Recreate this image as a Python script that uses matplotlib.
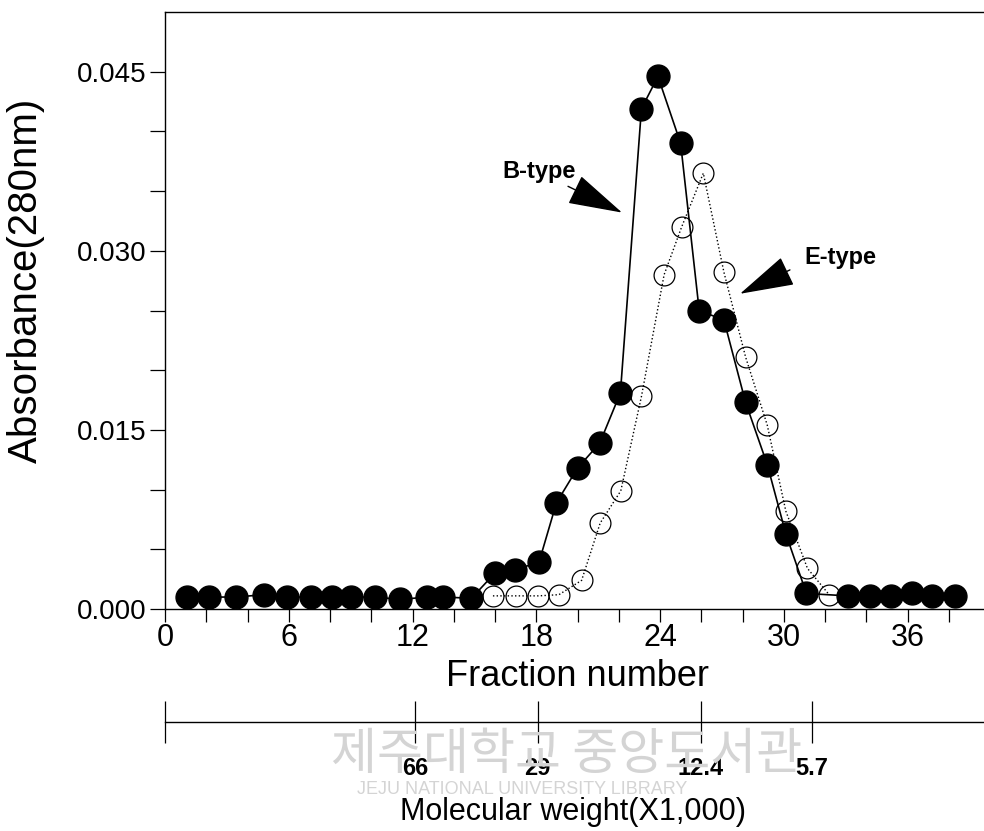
import matplotlib
matplotlib.use("Agg")
import matplotlib.pyplot as plt
from matplotlib.ticker import MultipleLocator, FixedLocator

plt.rcParams['font.family'] = ['Liberation Sans', 'DejaVu Sans']

# B-type (filled circles)
b_frac = [1.05, 2.13, 3.44, 4.8, 5.9, 7.1, 8.1, 9.0, 10.2, 11.4, 12.7, 13.5, 14.86,
          15.99, 16.96, 18.13, 18.98, 20.0, 21.08, 22.08, 23.1, 23.9, 25.0, 25.9,
          27.1, 28.15, 29.2, 30.1, 31.1, 33.1, 34.2, 35.2, 36.2, 37.2, 38.3]
b_abs = [0.0010, 0.0010, 0.0010, 0.0012, 0.0010, 0.0010, 0.0010, 0.0010, 0.0010,
         0.0008, 0.0010, 0.0010, 0.0009, 0.0030, 0.0033, 0.0039, 0.0089, 0.0118,
         0.0139, 0.0181, 0.0419, 0.0446, 0.0390, 0.0250, 0.0242, 0.0173, 0.0121,
         0.0063, 0.0013, 0.0011, 0.0011, 0.0011, 0.0013, 0.0011, 0.0011]

# E-type (open circles)
e_frac = [15.9, 17.0, 18.1, 19.1, 20.2, 21.1, 22.1, 23.1, 24.2, 25.05, 26.1,
          27.1, 28.15, 29.2, 30.1, 31.15, 32.2]
e_abs = [0.0011, 0.0011, 0.0011, 0.0012, 0.0024, 0.0072, 0.0099, 0.0178, 0.0280,
         0.0320, 0.0365, 0.0282, 0.0211, 0.0154, 0.0082, 0.0034, 0.0012]

# molecular weight markers (position on fraction axis)
mw_frac = [12.14, 18.07, 25.97, 31.35]
mw_labels = ["66", "29", "12.4", "5.7"]

yticks = [0, 0.015, 0.030, 0.045]
ytick_labels = ["0.000", "0.015", "0.030", "0.045"]

fig = plt.figure(figsize=(9.84, 8.31), dpi=100)
ax = fig.add_axes([165/984, 222/831, 825/984, 597/831])

ax.plot(e_frac, e_abs, ':', color='black', lw=1.0, marker='o', ms=15,
        mfc='none', mec='black', mew=0.9, zorder=2)
ax.plot(b_frac, b_abs, '-', color='black', lw=1.2, marker='o', ms=16.5,
        mfc='black', mec='black', zorder=3)

ax.set_xlim(0, 40)
ax.set_ylim(0, 0.05)
ax.xaxis.set_major_locator(MultipleLocator(6))
ax.xaxis.set_minor_locator(MultipleLocator(2))
ax.yaxis.set_major_locator(FixedLocator(yticks))
ax.yaxis.set_minor_locator(FixedLocator([0.005, 0.010, 0.020, 0.025, 0.035, 0.040]))
ax.set_yticklabels(ytick_labels)
ax.tick_params(axis='y', which='both', direction='out', length=11, width=0.9,
               labelsize=20, pad=2)
ax.tick_params(axis='x', which='both', direction='out', length=9, width=0.9,
               labelsize=22, pad=1)
for s in ['left', 'bottom', 'top', 'right']:
    ax.spines[s].set_linewidth(1.0)

ax.set_ylabel("Absorbance(280nm)", fontsize=29)
ax.yaxis.set_label_coords(-0.145, 0.551)
ax.set_xlabel("Fraction number", fontsize=26)
ax.xaxis.set_label_coords(0.5, -0.083)

# annotations
ax.text(18.13, 0.0366, "B-type", fontsize=17, fontweight='bold',
        ha='center', va='center')
ax.annotate("", xy=(22.16, 0.0332), xytext=(19.54, 0.0354),
            arrowprops=dict(arrowstyle="-|>,head_length=1.6,head_width=0.45",
                            color='black', lw=1.0, mutation_scale=22,
                            shrinkA=0, shrinkB=0))
ax.text(32.73, 0.0294, "E-type", fontsize=17, fontweight='bold',
        ha='center', va='center')
ax.annotate("", xy=(27.88, 0.0264), xytext=(30.3, 0.0284),
            arrowprops=dict(arrowstyle="-|>,head_length=1.6,head_width=0.45",
                            color='black', lw=1.0, mutation_scale=22,
                            shrinkA=0, shrinkB=0))

# watermark
fig.text(567/984, 1 - 755/831, "제주대학교 중앙도서관", fontsize=36,
         color='#d4d4d4', ha='center', va='center', zorder=0,
         family=['Noto Sans CJK KR', 'DejaVu Sans'])
fig.text(522/984, 1 - 789/831, "JEJU NATIONAL UNIVERSITY LIBRARY", fontsize=13,
         color='#d4d4d4', ha='center', va='center', zorder=0)

# molecular weight scale
ax2 = fig.add_axes([165/984, 109/831, 825/984, 0.0001])
ax2.set_xlim(0, 40)
ax2.patch.set_visible(False)
for s in ['left', 'top', 'right']:
    ax2.spines[s].set_visible(False)
ax2.spines['bottom'].set_linewidth(1.0)
ax2.set_yticks([])
ax2.set_xticks([0] + mw_frac)
ax2.set_xticklabels([""] + mw_labels, fontsize=17, fontweight='bold')
ax2.tick_params(axis='x', direction='inout', length=30, width=0.9, pad=10)

fig.text(573/984, 1 - 812/831, "Molecular weight(X1,000)", fontsize=22,
         ha='center', va='center')

fig.savefig("out.png", dpi=100)
